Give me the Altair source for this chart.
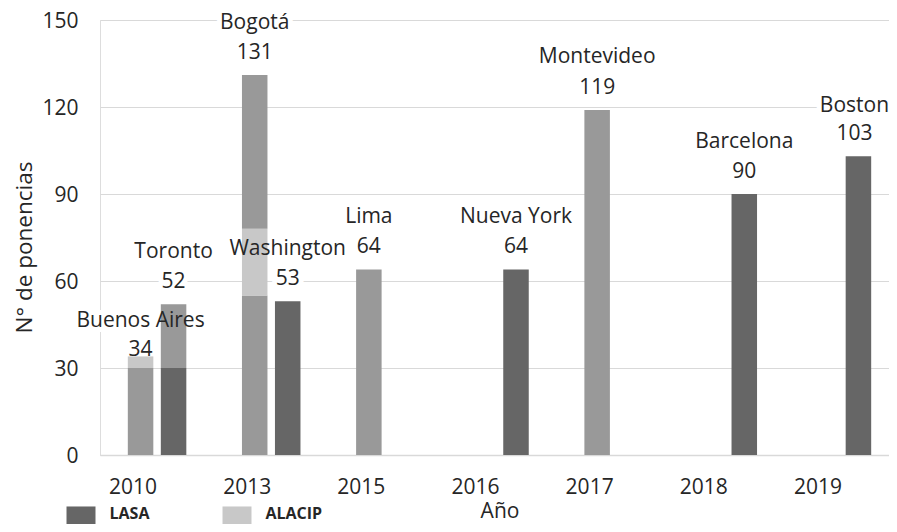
import altair as alt
import pandas as pd

# Congresses (one bar each)
years = ["2010", "2010", "2013", "2013", "2015", "2016", "2017", "2018", "2019"]
hosts = ["ALACIP", "LASA", "ALACIP", "LASA", "ALACIP", "LASA", "ALACIP", "LASA", "LASA"]
cities = ["Buenos Aires", "Toronto", "Bogotá", "Washington", "Lima",
          "Nueva York", "Montevideo", "Barcelona", "Boston"]
totals = [34, 52, 131, 53, 64, 64, 119, 90, 103]

# Stacked segments, bottom to top
seg_city = ["Buenos Aires", "Buenos Aires", "Toronto", "Toronto",
            "Bogotá", "Bogotá", "Bogotá", "Washington", "Lima",
            "Nueva York", "Montevideo", "Barcelona", "Boston"]
seg_series = ["Otras", "ALACIP", "LASA", "Otras",
              "Otras", "ALACIP", "Otras", "LASA", "Otras",
              "LASA", "Otras", "LASA", "LASA"]
seg_values = [30, 4, 30, 22, 55, 23, 53, 53, 64, 64, 119, 90, 103]

year_order = ["2010", "2013", "2015", "2016", "2017", "2018", "2019"]
series_domain = ["LASA", "ALACIP", "Otras"]
series_colors = ["#666666", "#c8c8c8", "#999999"]

conf = pd.DataFrame({"year": years, "host": hosts, "city": cities, "total": totals})
seg = pd.DataFrame({"city": seg_city, "serie": seg_series, "value": seg_values})
seg["order"] = range(len(seg))
seg["y1"] = seg.groupby("city")["value"].cumsum()
seg["y0"] = seg["y1"] - seg["value"]
seg = seg.merge(conf[["city", "year", "host"]], on="city")

FONT = "Open Sans"
TXT = "#262626"

x_enc = alt.X("year:N", sort=year_order,
              scale=alt.Scale(domain=year_order, range=[0, 799], paddingInner=0, paddingOuter=0),
              axis=alt.Axis(labelAngle=0, labelFontSize=21, labelColor=TXT, labelPadding=32,
                            domain=True, domainColor="#d9d9d9", domainWidth=1.5,
                            ticks=False, tickSize=0, grid=False,
                            title="Año", titleFontSize=21, titleFontWeight="normal",
                            titleColor=TXT, titleY=56, titleBaseline="middle"))
xo_enc = alt.XOffset("host:N", sort=["ALACIP", "LASA"],
                     scale=alt.Scale(domain=["ALACIP", "LASA"], paddingInner=0.227, paddingOuter=0.843))
y_scale = alt.Scale(domain=[0, 150], nice=False)
y_axis = alt.Axis(values=[0, 30, 60, 90, 120, 150], grid=True, gridColor="#d9d9d9", gridWidth=1,
                  domain=False, ticks=False, tickSize=0, labelFontSize=21, labelColor=TXT,
                  labelPadding=22, labelOffset=1.5, title="N° de ponencias", titleFontSize=22.5,
                  titleFontWeight="normal", titleColor=TXT, titleAngle=-90, titleX=-76,
                  titleY=227, titleBaseline="middle", titleAlign="center")

bars = alt.Chart(seg).mark_bar().encode(
    x=x_enc,
    xOffset=xo_enc,
    y=alt.Y("y1:Q", scale=y_scale, axis=y_axis),
    y2="y0:Q",
    color=alt.Color("serie:N",
                    scale=alt.Scale(domain=series_domain, range=series_colors),
                    legend=alt.Legend(values=["LASA", "ALACIP"], orient="none",
                                      legendX=-33.5, legendY=479.5, direction="horizontal",
                                      title=None, symbolType="M-1,-0.52H1V1.48H-1Z",
                                      symbolSize=841, symbolStrokeWidth=0, symbolOpacity=1,
                                      labelFontSize=16, labelFontWeight="bold", labelColor=TXT,
                                      labelFont=FONT, labelOffset=14, columnPadding=73, padding=0)),
    order=alt.Order("order:Q"),
)

# label groups: (filter, dy of city line, dy of value line, dx)
label_groups = [
    ("datum.city != 'Buenos Aires' && datum.city != 'Boston'", -52.5, -22, 0),
    ("datum.city == 'Buenos Aires'", -35, -6.5, 0),
    ("datum.city == 'Boston'", -50.5, -22, -4),
]


def labels(field, test, dy, dx, halo):
    kw = dict(font=FONT, fontSize=21, color=TXT, align="center", baseline="middle", dy=dy, dx=dx)
    if halo:
        kw.update(stroke="white", strokeWidth=10, strokeJoin="round", color="white")
    return alt.Chart(conf).transform_filter(test).mark_text(**kw).encode(
        x=alt.X("year:N", sort=year_order),
        xOffset=alt.XOffset("host:N", sort=["ALACIP", "LASA"]),
        y=alt.Y("total:Q"),
        text=alt.Text(field),
    )


layers = []
for halo in (True, False):
    for test, dyn, dyv, dx in label_groups:
        layers.append(labels("city:N", test, dyn, dx, halo))
        layers.append(labels("total:Q", test, dyv, dx, halo))
    if halo:
        layers.append(bars)

chart = alt.layer(*layers).properties(
    width=789, height=435,
    autosize=alt.AutoSizeParams(type="none"),
    padding={"left": 92, "top": 12, "right": 0, "bottom": 69},
).configure_view(stroke=None).configure(font=FONT)

chart.save("out.html", embed_options={"renderer": "svg", "actions": False})
